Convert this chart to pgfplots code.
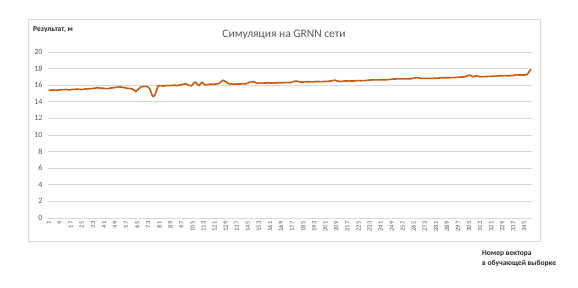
\documentclass[border=0pt]{standalone}
\usepackage{pgfplots}
\pgfplotsset{compat=1.18}
\usepackage{fontspec}
\setmainfont{Carlito}
\definecolor{lineor}{HTML}{C55A11}
\definecolor{gridc}{HTML}{D9D9D9}
\definecolor{txtc}{HTML}{595959}
\definecolor{labc}{HTML}{262626}
\pgfplotstableread{
x y
1 15.40
4 15.42
7 15.40
10 15.45
13 15.48
16 15.44
19 15.50
22 15.52
25 15.48
28 15.55
31 15.58
34 15.62
36 15.70
38 15.66
40 15.64
43 15.58
46 15.66
49 15.72
52 15.80
54 15.76
56 15.70
58 15.62
60 15.60
62 15.50
64 15.22
66 15.55
68 15.82
70 15.85
72 15.86
74 15.60
76 14.70
77 14.65
78 14.90
80 15.92
82 15.95
84 15.90
86 15.96
88 15.94
90 15.98
92 16.00
94 15.96
96 16.02
98 16.10
100 16.18
102 16.02
104 15.92
105 16.10
107 16.40
109 16.05
110 16.00
112 16.35
114 16.05
116 16.08
118 16.12
120 16.10
122 16.15
124 16.20
126 16.45
127 16.60
129 16.45
131 16.18
133 16.15
135 16.12
137 16.16
139 16.14
141 16.18
143 16.15
145 16.25
147 16.40
149 16.42
151 16.30
152 16.22
154 16.25
157 16.26
160 16.28
163 16.25
166 16.30
169 16.28
172 16.32
175 16.30
177 16.36
179 16.50
181 16.48
183 16.36
186 16.40
189 16.42
192 16.40
195 16.45
198 16.43
201 16.45
204 16.48
206 16.55
208 16.60
210 16.50
212 16.45
215 16.50
218 16.52
221 16.50
224 16.55
227 16.54
230 16.56
233 16.62
236 16.65
239 16.64
242 16.66
245 16.65
248 16.70
251 16.75
254 16.76
257 16.76
260 16.77
263 16.78
265 16.85
267 16.92
269 16.86
271 16.82
275 16.83
279 16.83
282 16.84
286 16.90
290 16.90
294 16.92
297 16.95
299 17.00
301 16.98
303 17.05
305 17.22
306 17.18
308 17.00
310 17.15
312 17.05
314 17.02
318 17.05
322 17.08
325 17.10
327 17.15
329 17.12
331 17.16
333 17.13
335 17.16
337 17.18
339 17.26
341 17.22
343 17.24
345 17.22
347 17.30
348 17.50
349 17.80
350 17.85
}\grnn
\begin{document}
\begin{tikzpicture}[x=1pt,y=1pt]
\path[fill=white] (0,0) rectangle (578,287);
\draw[color=gridc, line width=0.75pt] (28,46) rectangle (540,268);
\begin{axis}[
  at={(48pt,69pt)}, anchor=south west,
  scale only axis, width=484pt, height=166pt,
  xmin=0.5, xmax=350.5, ymin=0, ymax=20,
  ytick={0,2,...,20},
  xtick={1,9,...,345},
  axis line style={draw=none},
  tick style={draw=none},
  ymajorgrids, grid style={gridc, line width=0.75pt},
  /pgf/number format/assume math mode=true,
  /pgf/number format/set thousands separator={},
  yticklabel style={font=\fontsize{8}{9}\selectfont, color=txtc, xshift=-2pt},
  xticklabel style={font=\fontsize{6.5}{7}\selectfont, color=txtc, rotate=90, anchor=east, xshift=0pt},
  clip=false,
]
\addplot[color=lineor, line width=1.6pt, line join=round] table[x=x,y=y] {\grnn};
\end{axis}
\node[font=\fontsize{11.5}{13}\selectfont, color=txtc] at (284,252) {Симуляция на GRNN сети};
\node[anchor=west, inner sep=0pt, font=\fontsize{7.5}{8}\selectfont\bfseries, color=labc] at (33,257) {Результат, м};
\node[anchor=north west, inner sep=0pt, align=left, font=\fontsize{7.5}{10}\selectfont\bfseries, color=labc] at (482,37) {Номер вектора\\в обучающей выборке};
\end{tikzpicture}
\end{document}
